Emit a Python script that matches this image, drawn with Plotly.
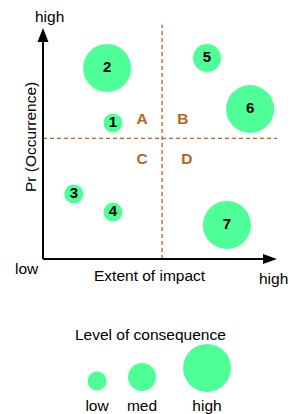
import plotly.graph_objects as go

# ---- data ----
risk_ids = ["1", "2", "3", "4", "5", "6", "7"]
impact = [2.99, 2.74, 1.32, 2.99, 7.01, 8.85, 7.86]
occurrence = [5.89, 8.27, 2.81, 2.03, 8.70, 6.49, 1.47]
consequence = ["low", "high", "low", "low", "med", "high", "high"]

quadrant_labels = ["A", "B", "C", "D"]
quadrant_x = [4.23, 5.98, 4.23, 6.15]
quadrant_y = [6.02, 6.02, 4.29, 4.29]

impact_split = 5.09
occurrence_split = 5.22

legend_levels = ["low", "med", "high"]
legend_x = [2.31, 4.23, 7.01]
legend_y = [-5.28, -5.11, -4.72]
legend_label_y = -6.41
legend_title = "Level of consequence"

size_map = {"low": 19, "med": 28, "high": 48}

# ---- layout geometry (px) ----
OFF = 8              # default page body margin
W, H = 304 - OFF, 414 - OFF
X0, X1 = 43 - OFF, 277 - OFF     # pixel of x=0 and x=10
Y0, Y1 = 259 - OFF, 28 - OFF     # pixel of y=0 and y=10
sx = (X1 - X0) / 10.0
sy = (Y0 - Y1) / 10.0
xrange = [-X0 / sx, (W - X0) / sx]
yrange = [(Y0 - H) / sy, Y0 / sy]

GREEN = "#4dff96"
BROWN = "#bb621c"
FONT = "Liberation Sans, Arial, sans-serif"
FS = 15.5

fig = go.Figure()

# quadrant dividers
fig.add_shape(type="line", x0=impact_split, x1=impact_split, y0=0, y1=10.15,
              line=dict(color=BROWN, width=1.3, dash="4px,3px"))
fig.add_shape(type="line", x0=0, x1=10, y0=occurrence_split, y1=occurrence_split,
              line=dict(color=BROWN, width=1.3, dash="4px,3px"))

# axes with arrows
fig.add_shape(type="line", x0=0, x1=0, y0=0, y1=9.5, line=dict(color="black", width=2))
fig.add_shape(type="line", x0=0, x1=9.5, y0=0, y1=0, line=dict(color="black", width=2))
fig.add_shape(type="path",
              path=f"M 0 10 L {-5.5/sx} {10-14/sy} L {5.5/sx} {10-14/sy} Z",
              fillcolor="black", line=dict(color="black", width=0))
fig.add_shape(type="path",
              path=f"M 10 0 L {10-14/sx} {5/sy} L {10-14/sx} {-5/sy} Z",
              fillcolor="black", line=dict(color="black", width=0))

# risk bubbles
fig.add_trace(go.Scatter(
    x=impact, y=occurrence, mode="markers+text", text=risk_ids,
    textposition="middle center",
    textfont=dict(family=FONT, size=15, color="black", weight="bold"),
    marker=dict(size=[size_map[c] for c in consequence], color=GREEN, opacity=1,
                line=dict(width=0)),
    cliponaxis=False, hoverinfo="skip", showlegend=False))

# quadrant labels
fig.add_trace(go.Scatter(
    x=quadrant_x, y=quadrant_y, mode="text", text=quadrant_labels,
    textfont=dict(family=FONT, size=15.5, color=BROWN, weight="bold"),
    cliponaxis=False, hoverinfo="skip", showlegend=False))

# legend bubbles
fig.add_trace(go.Scatter(
    x=legend_x, y=legend_y, mode="markers",
    marker=dict(size=[size_map[l] for l in legend_levels], color=GREEN, opacity=1,
                line=dict(width=0)),
    cliponaxis=False, hoverinfo="skip", showlegend=False))
fig.add_trace(go.Scatter(
    x=legend_x, y=[legend_label_y] * 3, mode="text", text=legend_levels,
    textfont=dict(family=FONT, size=FS, color="black"),
    cliponaxis=False, hoverinfo="skip", showlegend=False))

def ann(text, px, py, angle=0):
    px -= OFF
    py -= OFF
    fig.add_annotation(x=(px - X0) / sx, y=(Y0 - py) / sy, text=text, showarrow=False,
                       textangle=angle, font=dict(family=FONT, size=FS, color="black"),
                       xanchor="center", yanchor="middle")

ann("high", 49, 16)
ann("low", 27, 268)
ann("high", 273, 278)
ann("Extent of impact", 150, 275)
ann("Pr (Occurrence)", 30, 137, angle=-90)
ann(legend_title, 150, 334)

fig.update_layout(
    width=W, height=H, margin=dict(l=0, r=0, t=0, b=0),
    paper_bgcolor="white", plot_bgcolor="white",
    xaxis=dict(range=xrange, visible=False, fixedrange=True),
    yaxis=dict(range=yrange, visible=False, fixedrange=True),
)

fig.write_html("out.html", config={"displayModeBar": False})
